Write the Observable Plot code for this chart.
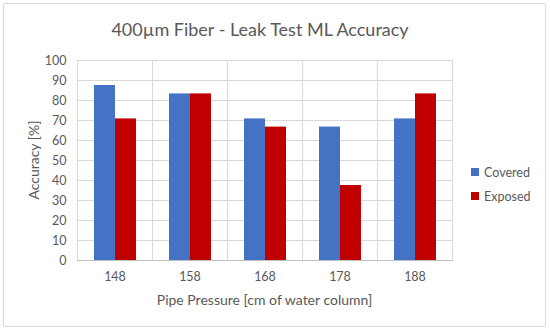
<!DOCTYPE html>
<html><head><meta charset="utf-8">
<script src="https://cdn.jsdelivr.net/npm/d3@7"></script>
<script src="https://cdn.jsdelivr.net/npm/@observablehq/plot@0.6"></script>
<style>
body{margin:0;background:#fff;font-family:Lato,"Open Sans",sans-serif;}
#wrap{position:relative;width:550px;height:331px;overflow:hidden;background:#fff}
#border{position:absolute;left:3px;top:3px;width:541px;height:322px;border:1px solid #d9d9d9;border-radius:2px;}
#title{position:absolute;left:0;top:18px;width:520px;text-align:center;font-size:18px;color:#595959;}
#chart{position:absolute;left:0;top:0}
#xlabel{position:absolute;left:77px;width:375px;top:291px;text-align:center;font-size:14px;color:#595959;}
#ylabel{position:absolute;left:33px;top:160px;font-size:14px;color:#595959;white-space:nowrap;transform:translate(-50%,-50%) rotate(-90deg);}
#legend{position:absolute;left:471px;top:160px;font-size:12.5px;color:#595959;}
#legend .item{display:flex;align-items:center;height:24px;}
#legend .sw{width:8px;height:8px;margin-right:5px;}
</style></head>
<body><div id="wrap"><div id="border"></div><div id="title">400µm Fiber - Leak Test ML Accuracy</div><div id="chart"></div><div id="xlabel"></div><div id="ylabel"></div><div id="legend"></div></div>
<script>
const pressures = ["148", "158", "168", "178", "188"];
const series = ["Covered", "Exposed"];
const covered = [87.5, 83.3, 70.8, 66.7, 70.8];
const exposed = [70.8, 83.3, 66.7, 37.5, 83.3];
const yTicks = [0, 10, 20, 30, 40, 50, 60, 70, 80, 90, 100];
const colors = ["#4472C4", "#C00000"];
const xTitle = "Pipe Pressure [cm of water column]";
const yTitle = "Accuracy [%]";

const rows = [];
pressures.forEach((p, i) => {
  rows.push({pressure: p, series: series[0], value: covered[i]});
  rows.push({pressure: p, series: series[1], value: exposed[i]});
});

const chart = Plot.plot({
  width: 550, height: 331,
  marginTop: 60, marginLeft: 77, marginRight: 98, marginBottom: 71,
  style: {fontFamily: "Lato, 'Open Sans', sans-serif", fontSize: "12.5px", color: "#595959", background: "transparent"},
  fx: {domain: pressures, padding: 0, axis: "bottom", label: null, tickSize: 0, tickPadding: 12},
  x: {domain: series, paddingInner: 0, paddingOuter: 0.75, axis: null},
  y: {domain: [0, 100], ticks: yTicks, tickSize: 0, tickPadding: 11, label: null},
  color: {domain: series, range: colors},
  marks: [
    Plot.gridY(yTicks, {stroke: "#d9d9d9", strokeOpacity: 1}),
    Plot.frame({stroke: "#d9d9d9"}),
    Plot.barY(rows, {fx: "pressure", x: "series", y: "value", fill: "series"}),
    Plot.ruleY([0], {stroke: "#bfbfbf"})
  ]
});
document.getElementById("chart").appendChild(chart);
document.getElementById("xlabel").textContent = xTitle;
document.getElementById("ylabel").textContent = yTitle;

const legend = document.getElementById("legend");
series.forEach((s, i) => {
  const it = document.createElement("div"); it.className = "item";
  const sw = document.createElement("span"); sw.className = "sw"; sw.style.background = colors[i];
  const t = document.createElement("span"); t.textContent = s;
  it.appendChild(sw); it.appendChild(t); legend.appendChild(it);
});
</script></body></html>
